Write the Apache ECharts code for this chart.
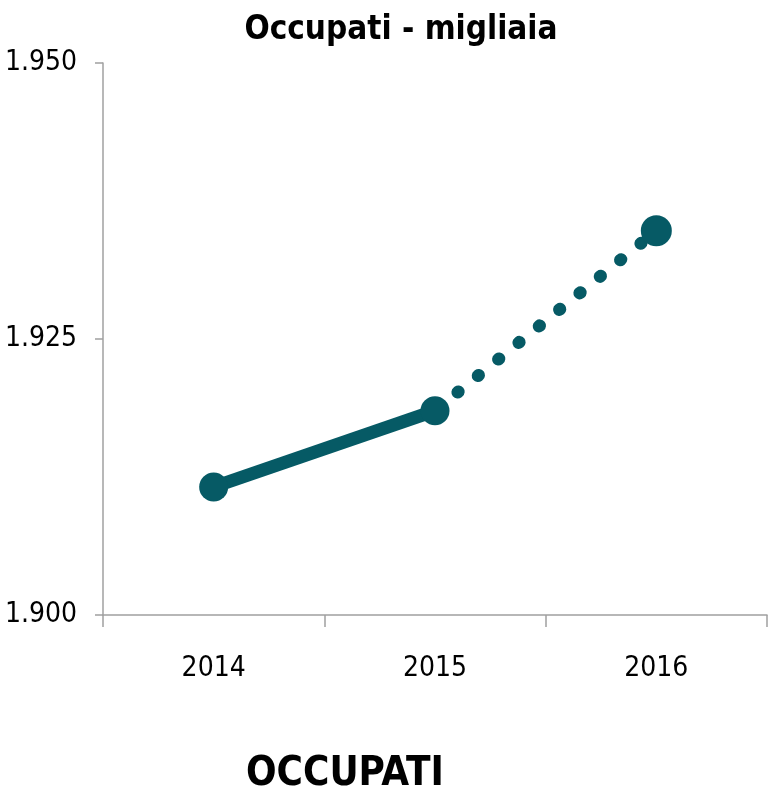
<!DOCTYPE html>
<html>
<head>
<meta charset="utf-8">
<script src="https://cdn.jsdelivr.net/npm/echarts@6/dist/echarts.min.js"></script>
<style>
html,body{margin:0;padding:0;background:#fff;}
#chart{width:769px;height:795px;}
</style>
</head>
<body>
<div id="chart"></div>
<script>
var categories = ['2014', '2015', '2016'];
var observed = [1911.6, 1918.5, null];
var forecast = [null, 1918.5, 1934.8];
var yTicks = [1900, 1925, 1950];
var chartTitle = 'Occupati - migliaia';
var footerLabel = 'OCCUPATI';

var FONT = '"Liberation Sans Narrow", "DejaVu Sans Condensed", "Liberation Sans", sans-serif';
var COLOR = '#065a65';
var AXIS = '#a0a0a0';

function fmt(v) {
  var s = String(Math.round(v));
  return s.replace(/\B(?=(\d{3})+(?!\d))/g, '.');
}

var chart = echarts.init(document.getElementById('chart'), null, {renderer: 'canvas'});
chart.setOption({
  backgroundColor: '#ffffff',
  animation: false,
  grid: {left: 103, right: 2, top: 63, bottom: 180, containLabel: false, outerBoundsMode: 'none'},
  xAxis: {
    type: 'category',
    data: categories,
    boundaryGap: true,
    axisLine: {lineStyle: {color: AXIS, width: 1.5}},
    axisTick: {show: true, length: 12, lineStyle: {color: AXIS, width: 1.5}},
    axisLabel: {color: '#000', fontFamily: FONT, fontSize: 28, margin: 40},
    splitLine: {show: false}
  },
  yAxis: {
    type: 'value',
    min: yTicks[0],
    max: yTicks[yTicks.length - 1],
    interval: yTicks[1] - yTicks[0],
    axisLine: {show: true, lineStyle: {color: AXIS, width: 1.5}},
    axisTick: {show: true, length: 8, lineStyle: {color: AXIS, width: 1.5}},
    axisLabel: {color: '#000', fontFamily: FONT, fontSize: 28, margin: 26, formatter: fmt},
    splitLine: {show: false}
  },
  series: [
    {
      type: 'line',
      data: observed,
      symbol: 'circle',
      symbolSize: 29,
      itemStyle: {color: COLOR},
      lineStyle: {color: COLOR, width: 13},
      connectNulls: false,
      z: 3
    },
    {
      type: 'line',
      data: forecast.map(function (v, i) {
        return i === 1 ? {value: v, symbolSize: 0} : v;
      }),
      symbol: 'circle',
      symbolSize: 31,
      itemStyle: {color: COLOR},
      lineStyle: {color: COLOR, width: 12.5, type: [1, 25.2], cap: 'round', dashOffset: -3},
      connectNulls: false,
      z: 2
    }
  ],
  graphic: [
    {
      type: 'text', x: 401, y: 14,
      style: {text: chartTitle, fill: '#000', font: 'bold 33px ' + FONT, textAlign: 'center', textVerticalAlign: 'top'}
    },
    {
      type: 'text', x: 345, y: 755,
      style: {text: footerLabel, fill: '#000', font: 'bold 40px ' + FONT, textAlign: 'center', textVerticalAlign: 'top'}
    }
  ]
});
</script>
</body>
</html>
